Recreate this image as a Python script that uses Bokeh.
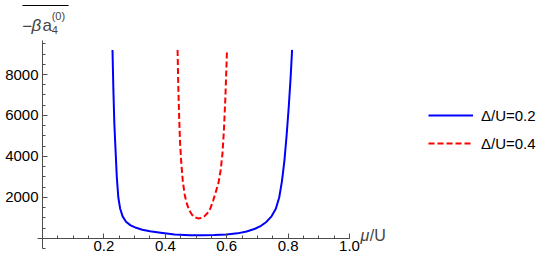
from bokeh.plotting import figure
from bokeh.models import (Range1d, LinearAxis, FixedTicker, Legend, LegendItem,
                          Label, BoxAnnotation, CustomJSTickFormatter)
from bokeh.embed import file_html
from bokeh.resources import INLINE

# ---- data ----
mu_blue = [0.228, 0.231, 0.234, 0.238, 0.242, 0.247, 0.253, 0.261, 0.272, 0.287,
           0.305, 0.325, 0.350, 0.385, 0.430, 0.480, 0.520, 0.560, 0.600, 0.635,
           0.665, 0.690, 0.712, 0.730, 0.746, 0.760, 0.771, 0.780, 0.788, 0.795,
           0.802, 0.808, 0.813]
a4_blue = [9200, 7200, 5600, 4300, 3000, 2000, 1450, 1080, 820, 640,
           520, 430, 350, 280, 190, 160, 155, 165, 195, 250,
           340, 460, 620, 820, 1080, 1450, 2000, 2800, 3800, 5000,
           6400, 7800, 9200]

mu_red = [0.440, 0.442, 0.445, 0.448, 0.452, 0.457, 0.463, 0.470, 0.478, 0.487,
          0.497, 0.507, 0.517, 0.527, 0.537, 0.547, 0.556, 0.565, 0.573, 0.580,
          0.586, 0.591, 0.596, 0.601]
a4_red = [9200, 7600, 6000, 4700, 3700, 2800, 2150, 1700, 1380, 1160,
          1030, 980, 1000, 1080, 1230, 1480, 1850, 2300, 2700, 3300,
          4100, 5300, 7000, 9200]

series_labels = ["\u0394/U=0.2", "\u0394/U=0.4"]

x_ticks = [0.2, 0.4, 0.6, 0.8, 1.0]
x_tick_labels = ["0.2", "0.4", "0.6", "0.8", "1.0"]
y_ticks = [2000, 4000, 6000, 8000]
y_tick_labels = ["2000", "4000", "6000", "8000"]
x_minor = [i * 0.05 for i in range(0, 21)]
y_minor = [i * 500 for i in range(-1, 20)]

LABEL_JS = """
const i = tvals.findIndex(t => Math.abs(t - tick) < 1e-9);
return i >= 0 ? tlabels[i] : '';
"""

FONT = "Liberation Sans"
AXC = "#4d4d4d"

# frame covers the whole canvas; axes drawn at fixed positions inside it
p = figure(width=545, height=263, output_backend="svg", toolbar_location=None,
           x_range=Range1d(-0.1368, 1.6384), y_range=Range1d(-1220, 11610),
           x_axis_location=None, y_axis_location=None,
           min_border_left=0, min_border_right=0, min_border_top=0,
           min_border_bottom=0)
p.outline_line_color = None
p.background_fill_color = "white"
p.border_fill_color = "white"
p.grid.visible = False

r_blue = p.line(mu_blue, a4_blue, line_color="#0000ff", line_width=2)
r_red = p.line(mu_red, a4_red, line_color="#ff0000", line_width=2,
               line_dash="6 3")

common = dict(axis_line_color=AXC, major_tick_line_color=AXC,
              minor_tick_line_color=AXC, major_tick_in=5, major_tick_out=0,
              minor_tick_in=3, minor_tick_out=0,
              major_label_text_font=FONT, major_label_text_font_size="15px",
              major_label_text_color="black", axis_line_width=1)

xaxis = LinearAxis(fixed_location=0, bounds=(-0.016, 1.0),
                   ticker=FixedTicker(ticks=x_ticks, minor_ticks=x_minor),
                   formatter=CustomJSTickFormatter(
                       args=dict(tvals=x_ticks, tlabels=x_tick_labels), code=LABEL_JS),
                   major_label_standoff=3, **common)
yaxis = LinearAxis(fixed_location=0, bounds=(-490, 9660),
                   ticker=FixedTicker(ticks=y_ticks, minor_ticks=y_minor),
                   formatter=CustomJSTickFormatter(
                       args=dict(tvals=y_ticks, tlabels=y_tick_labels), code=LABEL_JS),
                   major_label_standoff=4, **common)
p.add_layout(xaxis, "below")
p.add_layout(yaxis, "left")

legend = Legend(items=[LegendItem(label=series_labels[0], renderers=[r_blue]),
                       LegendItem(label=series_labels[1], renderers=[r_red])],
                location=(428, 110), orientation="vertical",
                glyph_width=45, glyph_height=20, label_height=20, spacing=8,
                label_standoff=8, padding=0, margin=0,
                border_line_color=None, background_fill_alpha=0,
                label_text_font=FONT, label_text_font_size="15px",
                label_text_color="black")
p.add_layout(legend)

# x-axis label  mu/U
p.add_layout(Label(x=1.036, y=150, text="\u03bc", text_font=FONT,
                   text_font_style="italic", text_font_size="16px",
                   text_baseline="alphabetic"))
p.add_layout(Label(x=1.066, y=150, text="/U", text_font=FONT,
                   text_font_size="16px", text_baseline="alphabetic"))

# y-axis label  overline(-beta a_4^(0))
p.add_layout(Label(x=-0.066, y=10390, text="\u2212", text_font=FONT,
                   text_font_size="17px", text_baseline="alphabetic"))
p.add_layout(Label(x=-0.036, y=10390, text="\u03b2", text_font=FONT,
                   text_font_style="italic", text_font_size="17px",
                   text_baseline="alphabetic"))
p.add_layout(Label(x=0.000, y=10390, text="a", text_font=FONT,
                   text_font_size="17px", text_baseline="alphabetic"))
p.add_layout(Label(x=0.030, y=10195, text="4", text_font=FONT,
                   text_font_size="11px", text_baseline="alphabetic"))
p.add_layout(Label(x=0.030, y=10860, text="(0)", text_font=FONT,
                   text_font_size="11px", text_baseline="alphabetic"))
p.add_layout(BoxAnnotation(left=-0.065, right=0.085, bottom=11340, top=11390,
                           fill_color="black", fill_alpha=1, line_color=None))

open("out.html", "w").write(file_html(p, INLINE))
